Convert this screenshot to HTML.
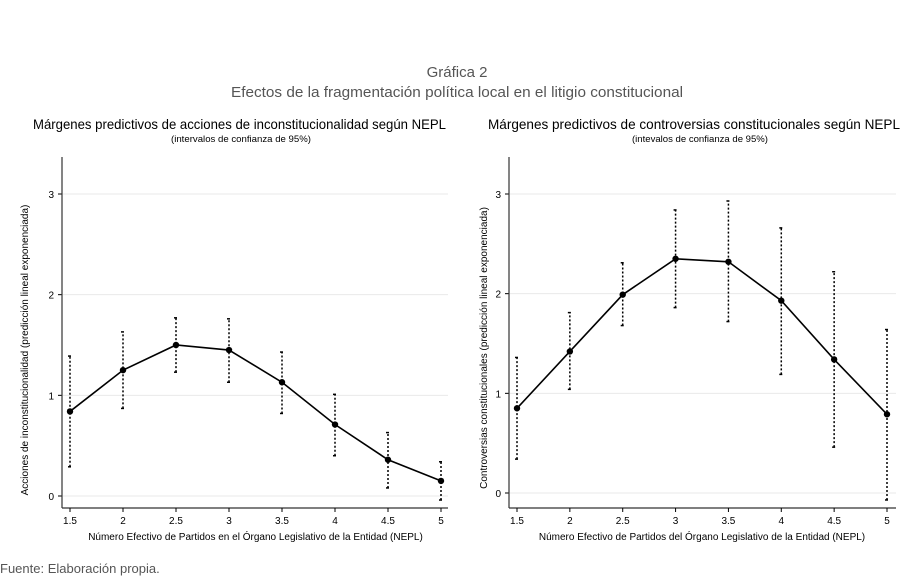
<!DOCTYPE html>
<html><head><meta charset="utf-8"><style>
body{margin:0;background:#fff}
svg{display:block}
text{font-family:"Liberation Sans",sans-serif}
</style></head><body>
<svg id="s" width="900" height="579" xmlns="http://www.w3.org/2000/svg">
<text x="457" y="77" text-anchor="middle" font-size="15" fill="#555">Gráfica 2</text>
<text x="457" y="97" text-anchor="middle" font-size="15" fill="#555" textLength="452" lengthAdjust="spacingAndGlyphs">Efectos de la fragmentación política local en el litigio constitucional</text>
<text x="33" y="129" font-size="14" fill="#000" textLength="413" lengthAdjust="spacingAndGlyphs">Márgenes predictivos de acciones de inconstitucionalidad según NEPL</text>
<text x="241" y="142" text-anchor="middle" font-size="9" fill="#000" textLength="140" lengthAdjust="spacingAndGlyphs">(intervalos de confianza de 95%)</text>
<text x="488" y="129" font-size="14" fill="#000" textLength="412" lengthAdjust="spacingAndGlyphs">Márgenes predictivos de controversias constitucionales según NEPL</text>
<text x="700" y="142" text-anchor="middle" font-size="9" fill="#000" textLength="136" lengthAdjust="spacingAndGlyphs">(intevalos de confianza de 95%)</text>
<text x="0" y="573" font-size="13" fill="#555">Fuente: Elaboración propia.</text>
</svg>
<script>
const s=document.getElementById('s');
function el(t,a,txt){const e=document.createElementNS('http://www.w3.org/2000/svg',t);for(const k in a)e.setAttribute(k,a[k]);if(txt!==undefined)e.textContent=txt;s.appendChild(e);return e;}
function panel(p){
 const X=v=>p.x0+(v-1.5)*(p.x1-p.x0)/3.5, Y=v=>p.y0-v*(p.y0-p.y3)/3;
 for(let i=0;i<=3;i++){el('line',{x1:p.ax+1,x2:p.right,y1:Y(i),y2:Y(i),stroke:'#eaeaea','stroke-width':1});
  el('line',{x1:p.ax-4,x2:p.ax,y1:Y(i),y2:Y(i),stroke:'#000'});
  el('text',{x:p.ax-8,y:Y(i)+4,'font-size':10,'text-anchor':'end'},i);}
 el('line',{x1:p.ax,x2:p.ax,y1:157,y2:p.bot,stroke:'#333','stroke-width':1.2});
 el('line',{x1:p.ax,x2:p.right,y1:p.bot,y2:p.bot,stroke:'#333','stroke-width':1.2});
 const xs=[1.5,2,2.5,3,3.5,4,4.5,5];
 xs.forEach((v,i)=>{el('line',{x1:X(v),x2:X(v),y1:p.bot,y2:p.bot+4,stroke:'#000'});
  el('text',{x:X(v),y:p.bot+16,'font-size':10,'text-anchor':'middle'},String(v));
  const d=p.d[i];
  el('line',{x1:X(v),x2:X(v),y1:Y(d[1]),y2:Y(d[2]),stroke:'#000','stroke-width':1.5,'stroke-dasharray':'2,2'});
  el('line',{x1:X(v)-2,x2:X(v)+1,y1:Y(d[1]),y2:Y(d[1]),stroke:'#000','stroke-width':1.5});
  el('line',{x1:X(v)-2,x2:X(v)+1,y1:Y(d[2]),y2:Y(d[2]),stroke:'#000','stroke-width':1.5});});
 el('polyline',{points:xs.map((v,i)=>X(v)+','+Y(p.d[i][0])).join(' '),fill:'none',stroke:'#000','stroke-width':1.6});
 xs.forEach((v,i)=>el('circle',{cx:X(v),cy:Y(p.d[i][0]),r:3.2,fill:'#000'}));
 el('text',{x:(p.x0+p.x1)/2,y:p.bot+32,'font-size':10,'text-anchor':'middle'},p.xl);
 el('text',{x:0,y:0,'font-size':10,'text-anchor':'middle',transform:`translate(${p.yx},${p.yc}) rotate(-90)`},p.yl);
}
panel({ax:62,x0:70,x1:441,y0:496,y3:194,bot:508,right:448,yc:350,yx:28,
 xl:'Número Efectivo de Partidos en el Órgano Legislativo de la Entidad (NEPL)',
 yl:'Acciones de inconstitucionalidad (predicción lineal exponenciada)',
 d:[[0.84,0.29,1.39],[1.25,0.87,1.63],[1.50,1.23,1.77],[1.45,1.13,1.76],[1.13,0.82,1.43],[0.71,0.40,1.01],[0.36,0.08,0.63],[0.15,-0.04,0.34]]});
panel({ax:509,x0:517,x1:887,y0:493,y3:194,bot:508,right:896,yc:348,yx:487,
 xl:'Número Efectivo de Partidos del Órgano Legislativo de la Entidad (NEPL)',
 yl:'Controversias constitucionales (predicción lineal exponenciada)',
 d:[[0.85,0.34,1.36],[1.42,1.04,1.81],[1.99,1.68,2.31],[2.35,1.86,2.84],[2.32,1.72,2.93],[1.93,1.19,2.66],[1.34,0.46,2.22],[0.79,-0.07,1.64]]});
</script>
</body></html>
